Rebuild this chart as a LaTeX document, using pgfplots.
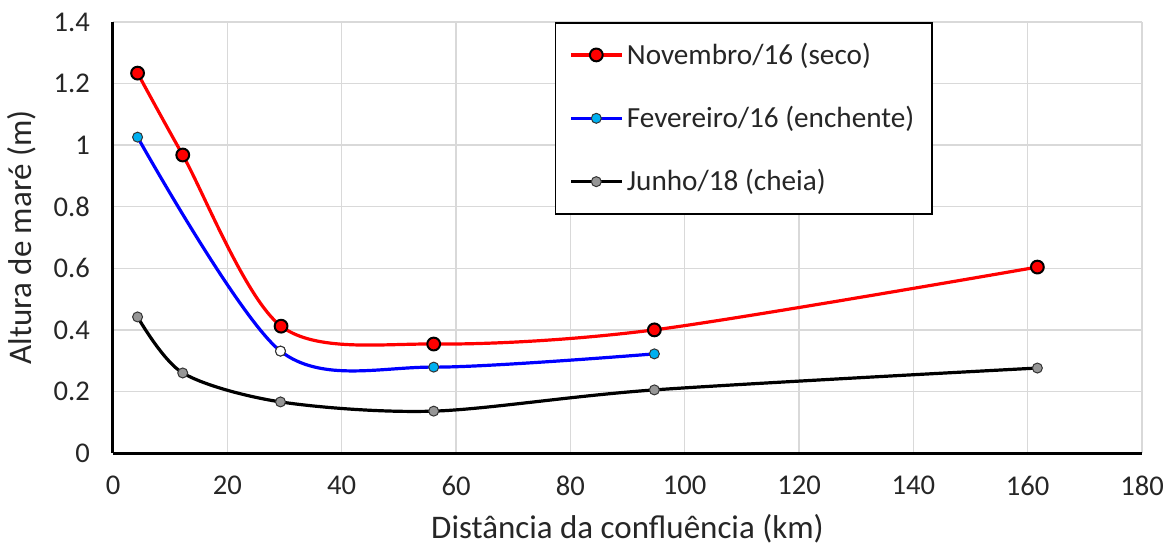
\documentclass[border=0pt]{standalone}
\usepackage{pgfplots}
\pgfplotsset{compat=1.18}
\usepackage{fontspec}
\setmainfont{Carlito}
\definecolor{gridgray}{RGB}{217,217,217}
\definecolor{cyanmark}{RGB}{0,176,240}
\definecolor{graymark}{RGB}{150,150,150}
\begin{document}
\begin{tikzpicture}
\begin{axis}[
  at={(0,0)}, anchor=south west,
  scale only axis,
  width=514.5pt, height=215.5pt,
  xmin=0, xmax=180, ymin=0, ymax=1.4,
  xtick={0,20,...,180},
  ytick={0,0.2,0.4,0.6,0.8,1,1.2,1.4},
  yticklabels={0,0.2,0.4,0.6,0.8,1,1.2,1.4},
  axis x line*=bottom, axis y line*=left,
  axis line style={-, line width=1.5pt, black},
  major tick length=0pt,
  grid=major,
  major grid style={gridgray, line width=0.75pt},
  /pgf/number format/assume math mode=true,
  tick label style={font=\fontsize{14.3pt}{17pt}\selectfont, color=black!85},
  xticklabel style={yshift=-8pt},
  yticklabel style={xshift=-8pt},
  xlabel={Distância da confluência (km)},
  ylabel={Altura de maré (m)},
  label style={font=\fontsize{16.5pt}{19pt}\selectfont, color=black!85},
  xlabel style={at={(0.5,0)}, anchor=north, yshift=-27pt},
  ylabel style={at={(0,0.5)}, anchor=south, yshift=35pt},
  legend style={
    at={(0.4295,1)}, anchor=north west,
    draw=black, line width=0.75pt,
    font=\fontsize{14.6pt}{17pt}\selectfont,
    inner xsep=7pt, inner ysep=8pt,
    row sep=15.5pt,
    /tikz/every even column/.append style={column sep=0pt},
    text=black!85,
  },
  legend cell align=left,
  legend image code/.code={\draw[mark repeat=2,mark phase=2] plot coordinates {(0pt,0pt) (12.5pt,0pt) (25pt,0pt)};},
  clip=false,
]
\addplot[red, line width=1.6pt, smooth, mark=*, mark size=3.2pt,
  mark options={fill=red, draw=black, line width=1pt}]
  coordinates {(4.3,1.234) (12.2,0.968) (29.4,0.412) (56.1,0.354) (94.7,0.400) (161.7,0.604)};
\addlegendentry{Novembro/16 (seco)}
\addplot[blue, line width=1.6pt, smooth, mark=*, mark size=2.5pt,
  mark options={fill=cyanmark, draw=black!80, line width=0.5pt}]
  coordinates {(4.3,1.026) (29.3,0.331) (56.1,0.279) (94.7,0.322)};
\addlegendentry{Fevereiro/16 (enchente)}
\addplot[black, line width=1.6pt, smooth, mark=*, mark size=2.5pt,
  mark options={fill=graymark, draw=black!80, line width=0.5pt}]
  coordinates {(4.3,0.442) (12.2,0.260) (29.3,0.166) (56.1,0.136) (94.7,0.205) (161.7,0.276)};
\addlegendentry{Junho/18 (cheia)}
\addplot[forget plot, only marks, mark=*, mark size=2.5pt,
  mark options={fill=white, draw=black!80, line width=0.5pt}]
  coordinates {(29.3,0.331)};
\end{axis}
\pgfresetboundingbox
\useasboundingbox (-56.5pt,-50.5pt) rectangle (530pt,226.5pt);
\end{tikzpicture}
\end{document}
